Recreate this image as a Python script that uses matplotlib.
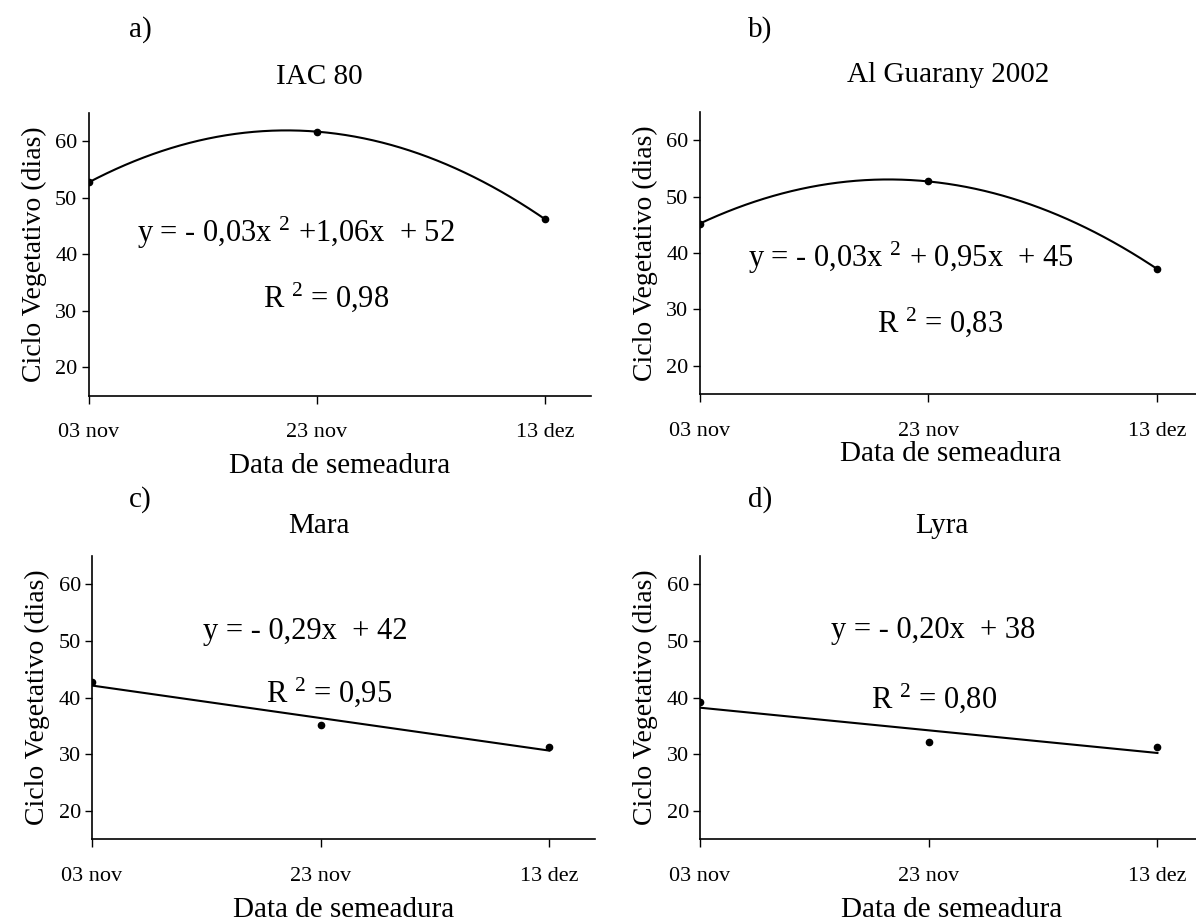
import numpy as np
import matplotlib
matplotlib.use('Agg')
import matplotlib.pyplot as plt

plt.rcParams['font.family'] = ['Liberation Serif', 'DejaVu Serif']
plt.rcParams['mathtext.fontset'] = 'custom'
plt.rcParams['mathtext.rm'] = 'Liberation Serif'
plt.rcParams['mathtext.it'] = 'Liberation Serif:italic'

# days after 03 nov
dias = [0, 20, 40]
tick_labels = ['03 nov', '23 nov', '13 dez']

iac80 = [52.7, 61.7, 46.2]
guarany = [45.2, 52.7, 37.2]
mara = [42.7, 35.2, 31.2]
lyra = [39.2, 32.2, 31.2]

letters = ['a)', 'b)', 'c)', 'd)']
titles = ['IAC 80', 'Al Guarany 2002', 'Mara', 'Lyra']
series = [iac80, guarany, mara, lyra]
degrees = [2, 2, 1, 1]
equations = [
    'y = - 0,03x $^{2}$ +1,06x  + 52',
    'y = - 0,03x $^{2}$ + 0,95x  + 45',
    'y = - 0,29x  + 42',
    'y = - 0,20x  + 38',
]
r2_texts = ['R $^{2}$ = 0,98', 'R $^{2}$ = 0,83', 'R $^{2}$ = 0,95', 'R $^{2}$ = 0,80']

# layout, in figure fractions
positions = [
    [0.0740, 0.5715, 0.4199, 0.3061],
    [0.5849, 0.5731, 0.4207, 0.3055],
    [0.0769, 0.0910, 0.4207, 0.3066],
    [0.5853, 0.0910, 0.4207, 0.3066],
]
letter_xy = [(0.103, 1.297), (0.120, 1.294), (0.095, 1.198), (0.119, 1.198)]
title_xy = [(0.459, 1.127), (0.494, 1.131), (0.451, 1.106), (0.481, 1.106)]
eq_xy = [(0.413, 0.543), (0.420, 0.450), (0.423, 0.707), (0.463, 0.710)]
r2_xy = [(0.473, 0.313), (0.478, 0.220), (0.471, 0.484), (0.465, 0.463)]
xlabel_pad = [8, 0, 8, 8]

fig = plt.figure(figsize=(11.96, 9.23), dpi=100)

for i in range(4):
    ax = fig.add_axes(positions[i])
    y = series[i]
    coef = np.polyfit(dias, y, degrees[i])
    xs = np.linspace(dias[0], dias[-1], 200)
    ax.plot(xs, np.polyval(coef, xs), color='black', linewidth=1.5)
    ax.plot(dias, y, 'o', color='black', markersize=4.5)

    ax.set_xlim(0, 44)
    ax.set_ylim(15, 65)
    ax.set_xticks(dias)
    ax.set_xticklabels(tick_labels)
    ax.set_yticks([20, 30, 40, 50, 60])
    for side in ['top', 'right']:
        ax.spines[side].set_visible(False)
    for side in ['left', 'bottom']:
        ax.spines[side].set_linewidth(1.2)
    ax.tick_params(axis='x', direction='out', length=6, width=1, pad=14, labelsize=16)
    ax.tick_params(axis='y', direction='out', length=5, width=1, pad=3, labelsize=16)

    ax.set_xlabel('Data de semeadura', fontsize=21, labelpad=xlabel_pad[i])
    ax.set_ylabel('Ciclo Vegetativo (dias)', fontsize=20, labelpad=6)

    ax.text(letter_xy[i][0], letter_xy[i][1], letters[i], transform=ax.transAxes,
            ha='center', va='center', fontsize=21)
    ax.text(title_xy[i][0], title_xy[i][1], titles[i], transform=ax.transAxes,
            ha='center', va='center', fontsize=21)
    ax.text(eq_xy[i][0], eq_xy[i][1], equations[i], transform=ax.transAxes,
            ha='center', va='baseline', fontsize=22)
    ax.text(r2_xy[i][0], r2_xy[i][1], r2_texts[i], transform=ax.transAxes,
            ha='center', va='baseline', fontsize=22)

fig.savefig('out.png', dpi=100)
